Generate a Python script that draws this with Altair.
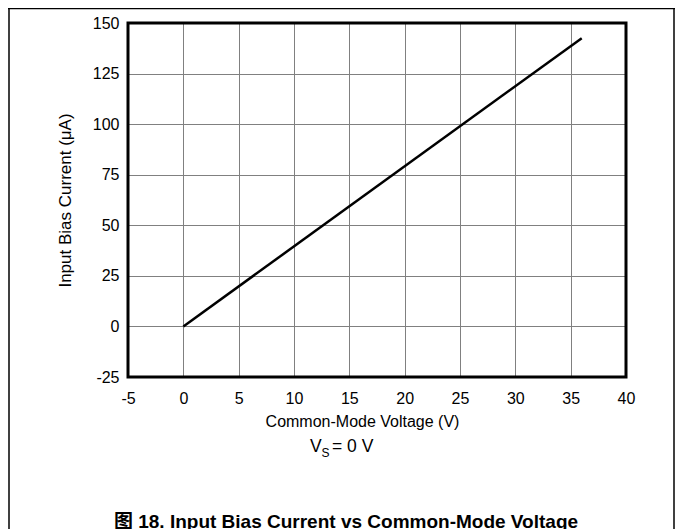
import altair as alt
import pandas as pd

# ---- data ----
cm_voltage = [0, 36]          # Common-Mode Voltage (V)
bias_current = [0, 142.5]     # Input Bias Current (uA)
x_ticks = [-5, 0, 5, 10, 15, 20, 25, 30, 35, 40]
y_ticks = [-25, 0, 25, 50, 75, 100, 125, 150]
x_title = "Common-Mode Voltage (V)"
y_title = "Input Bias Current (μA)"
caption = "图 18. Input Bias Current vs Common-Mode Voltage"

# ---- layout ----
W, H = 498, 354
PL, PT = 120, 15
TOTAL_W, TOTAL_H = 667, 521
FONT = "Liberation Sans, Arial, Noto Sans CJK SC"

df = pd.DataFrame({"v": cm_voltage, "i": bias_current})
one = pd.DataFrame({"k": [0]})

line = alt.Chart(df).mark_line(color="black", strokeWidth=2.5, clip=True).encode(
    x=alt.X(
        "v:Q",
        scale=alt.Scale(domain=[-5, 40], nice=False, zero=False),
        axis=alt.Axis(
            values=x_ticks, title=x_title, grid=True, gridColor="#808080", gridWidth=1,
            domain=False, ticks=False, tickSize=0, labelPadding=13, labelFlush=False,
            labelExpr="datum.value + ''",
            labelFont=FONT, labelFontSize=16, labelColor="black", labelOverlap=False,
            titleFont=FONT, titleFontSize=16, titleFontWeight="normal", titleColor="black",
            titleX=234, titleY=49, titleBaseline="alphabetic", titleAlign="center",
        ),
    ),
    y=alt.Y(
        "i:Q",
        scale=alt.Scale(domain=[-25, 150], nice=False, zero=False),
        axis=alt.Axis(
            values=y_ticks, title=y_title, grid=True, gridColor="#808080", gridWidth=1,
            domain=False, ticks=False, tickSize=0, labelPadding=9, labelFlush=False,
            labelExpr="datum.value + ''",
            labelFont=FONT, labelFontSize=16, labelColor="black", labelOverlap=False,
            titleFont=FONT, titleFontSize=17, titleFontWeight="normal", titleColor="black",
            titleX=-58, titleY=177, titleAngle=270, titleBaseline="alphabetic", titleAlign="center",
        ),
    ),
)

border = alt.Chart(one).mark_rect(filled=False, stroke="black", strokeWidth=3).encode(
    x=alt.value(0), x2=alt.value(W), y=alt.value(0), y2=alt.value(H)
)

frame_top = alt.Chart(one).mark_rule(color="black", strokeWidth=1.5).encode(
    x=alt.value(-PL - 8), x2=alt.value(TOTAL_W - PL + 8), y=alt.value(-PT + 0.5)
)
frame_left = alt.Chart(one).mark_rule(color="black", strokeWidth=1.5).encode(
    x=alt.value(-119), y=alt.value(-PT), y2=alt.value(TOTAL_H - PT)
)
frame_right = alt.Chart(one).mark_rule(color="black", strokeWidth=1.5).encode(
    x=alt.value(TOTAL_W - PL - 1), y=alt.value(-PT), y2=alt.value(TOTAL_H - PT)
)

vs_v = alt.Chart(one).mark_text(text="V", font=FONT, fontSize=17.5, align="left",
                                baseline="alphabetic", color="black").encode(
    x=alt.value(182), y=alt.value(429))
vs_s = alt.Chart(one).mark_text(text="S", font=FONT, fontSize=12, align="left",
                                baseline="alphabetic", color="black").encode(
    x=alt.value(193.5), y=alt.value(434))
vs_rest = alt.Chart(one).mark_text(text="= 0 V", font=FONT, fontSize=17.5, align="left",
                                   baseline="alphabetic", color="black").encode(
    x=alt.value(204), y=alt.value(429))

cap = alt.Chart(one).mark_text(text=caption, font=FONT, fontSize=19, fontWeight="bold",
                               align="center", baseline="alphabetic", color="black").encode(
    x=alt.value(218), y=alt.value(505))

chart = alt.layer(
    line, border, frame_top, frame_left, frame_right, vs_v, vs_s, vs_rest, cap
).properties(
    width=W, height=H,
    autosize=alt.AutoSizeParams(type="none"),
    padding={"left": PL, "top": PT, "right": TOTAL_W - PL - W, "bottom": TOTAL_H - PT - H},
).configure_view(stroke=None).configure(background="white")

chart.save("out.html", embed_options={"renderer": "svg", "actions": False})
